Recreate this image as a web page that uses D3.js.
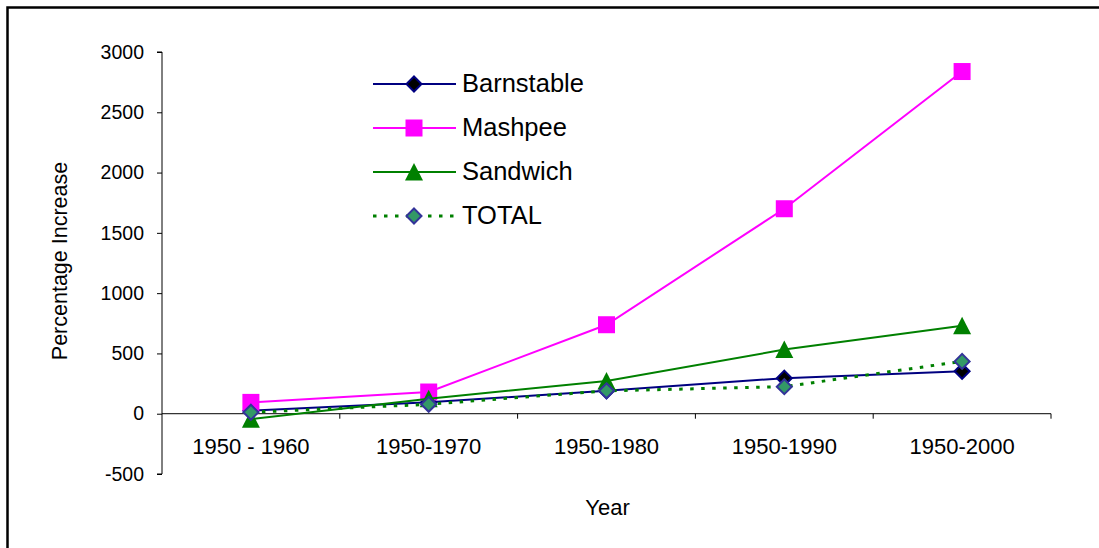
<!DOCTYPE html>
<html>
<head>
<meta charset="utf-8">
<script src="https://cdn.jsdelivr.net/npm/d3@7"></script>
<style>
  html, body { margin: 0; padding: 0; background: #fff; }
  svg { display: block; }
  text { font-family: "Liberation Sans", Arial, sans-serif; fill: #000; }
</style>
</head>
<body>
<svg id="chart" width="1099" height="548"></svg>
<script>
// Percentage population increase since 1950, by town
const periods = ["1950 - 1960", "1950-1970", "1950-1980", "1950-1990", "1950-2000"];
const barnstable = [25, 95, 190, 295, 352];
const mashpee = [94, 180, 738, 1700, 2838];
const sandwich = [-45, 125, 272, 532, 730];
const total = [12, 78, 190, 224, 434];
const yTicks = [-500, 0, 500, 1000, 1500, 2000, 2500, 3000];

const series = [
  { name: "Barnstable", values: barnstable, line: "#000080", dash: null, marker: "diamond", fill: "#000000", stroke: "#000080" },
  { name: "Mashpee", values: mashpee, line: "#FF00FF", dash: null, marker: "square", fill: "#FF00FF", stroke: "#FF00FF" },
  { name: "Sandwich", values: sandwich, line: "#008000", dash: null, marker: "triangle", fill: "#008000", stroke: "#008000" },
  { name: "TOTAL", values: total, line: "#008000", dash: "3.5,7.5", marker: "diamond", fill: "#339966", stroke: "#333399" }
];

const svg = d3.select("#chart");
const W = 1099, H = 548;

// outer frame (right and bottom edges run past the canvas)
svg.append("rect")
  .attr("x", 7.5).attr("y", 7.5).attr("width", W + 10).attr("height", H + 10)
  .attr("fill", "#fff").attr("stroke", "#000").attr("stroke-width", 2.5);

const plot = { left: 162, right: 1051, top: 52, bottom: 474 };

const x = d3.scaleBand().domain(periods).range([plot.left, plot.right]);
const y = d3.scaleLinear().domain([-500, 3000]).range([plot.bottom, plot.top]);
const cx = d => x(d) + x.bandwidth() / 2;

// y axis
const yAxis = svg.append("g")
  .attr("transform", `translate(${plot.left},0)`)
  .call(d3.axisLeft(y).tickValues(yTicks).tickSize(5).tickPadding(13).tickFormat(d => String(d)));
yAxis.select(".domain").attr("stroke", "#000").attr("d", `M-5,${plot.top}H0V${plot.bottom}H-5`);
yAxis.selectAll(".tick line").attr("stroke", "#000");
yAxis.selectAll("text").style("font-size", "19.5px").attr("fill", "#000");

// x axis along zero
const xAxis = svg.append("g")
  .attr("transform", `translate(0,${y(0)})`);
xAxis.append("line")
  .attr("x1", plot.left).attr("x2", plot.right)
  .attr("stroke", "#000");
const bounds = periods.map(p => x(p) + x.bandwidth());
xAxis.selectAll("line.tk").data(bounds).join("line")
  .attr("class", "tk")
  .attr("x1", d => d).attr("x2", d => d)
  .attr("y1", 0).attr("y2", 5)
  .attr("stroke", "#000");
xAxis.selectAll("text").data(periods).join("text")
  .attr("x", d => cx(d)).attr("y", 40)
  .attr("text-anchor", "middle")
  .style("font-size", "22px")
  .text(d => d);

// axis titles
svg.append("text")
  .attr("x", (plot.left + plot.right) / 2 + 1).attr("y", 515)
  .attr("text-anchor", "middle").style("font-size", "22px")
  .text("Year");
svg.append("text")
  .attr("transform", `translate(67,261) rotate(-90)`)
  .attr("text-anchor", "middle").style("font-size", "21.5px")
  .text("Percentage Increase");

// markers
function drawMarker(g, s, px, py) {
  const t = `translate(${px},${py})`;
  if (s.marker === "diamond") {
    g.append("path").attr("d", "M0,-7.5L7.5,0L0,7.5L-7.5,0Z")
      .attr("transform", t)
      .attr("fill", s.fill).attr("stroke", s.stroke).attr("stroke-width", 2);
  } else if (s.marker === "square") {
    g.append("path").attr("d", "M-8.5,-8.5H8.5V8.5H-8.5Z")
      .attr("transform", t).attr("fill", s.fill);
  } else {
    g.append("path").attr("d", "M0,-9L9,8.5H-9Z")
      .attr("transform", t).attr("fill", s.fill);
  }
}

const line = d3.line().x(d => cx(d.p)).y(d => y(d.v));

series.forEach(s => {
  const pts = s.values.map((v, i) => ({ p: periods[i], v }));
  svg.append("path").datum(pts)
    .attr("d", line)
    .attr("fill", "none")
    .attr("stroke", s.line)
    .attr("stroke-width", s.dash ? 3 : 2)
    .attr("stroke-dasharray", s.dash);
  const g = svg.append("g");
  pts.forEach(d => drawMarker(g, s, cx(d.p), y(d.v)));
});

// legend
const legend = svg.append("g");
series.forEach((s, i) => {
  const ly = 84 + i * 44;
  legend.append("line")
    .attr("x1", 373).attr("x2", 456).attr("y1", ly).attr("y2", ly)
    .attr("stroke", s.line).attr("stroke-width", s.dash ? 3 : 2)
    .attr("stroke-dasharray", s.dash);
  drawMarker(legend, s, 414, ly);
  legend.append("text")
    .attr("x", 462).attr("y", ly + 7.5)
    .style("font-size", "25.5px")
    .text(s.name);
});
</script>
</body>
</html>
